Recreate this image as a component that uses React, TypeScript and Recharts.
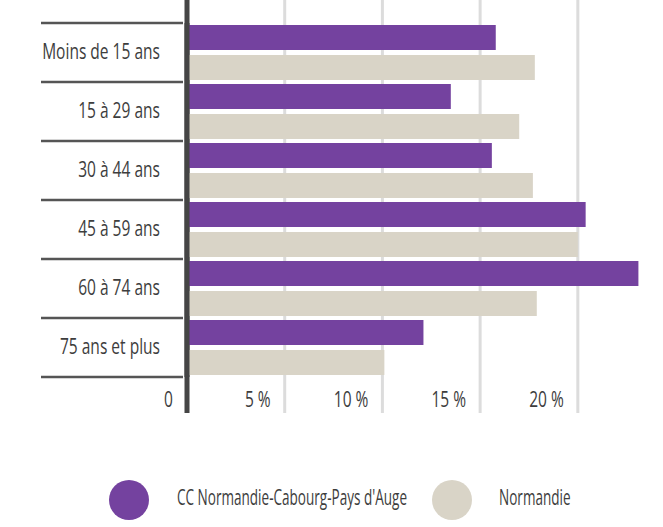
import React from "react";
import { BarChart, Bar, XAxis, YAxis, CartesianGrid, Legend } from "recharts";

const categories = ["Moins de 15 ans", "15 à 29 ans", "30 à 44 ans", "45 à 59 ans", "60 à 74 ans", "75 ans et plus"];
const ccValues = [15.8, 13.5, 15.6, 20.4, 23.1, 12.1];
const normandieValues = [17.8, 17.0, 17.7, 20.0, 17.9, 10.1];
const seriesNames = ["CC Normandie-Cabourg-Pays d'Auge", "Normandie"];
const xTicks = [0, 5, 10, 15, 20];
const xTickLabels = ["0", "5 %", "10 %", "15 %", "20 %"];

const PURPLE = "#74429f";
const BEIGE = "#d9d4c7";
const FONT = "'Open Sans', 'Noto Sans', sans-serif";
const FONT_SIZE = 21;
const SQUEEZE = 0.74;
const LEGEND_SQUEEZE = 0.645;
const TEXT = "#3d3d3d";
const SEP = "#555555";

const data = categories.map((c, i) => ({ name: c, cc: ccValues[i], norm: normandieValues[i] }));

const YTick = (props: any) => {
  const { x, y, payload, index, visibleTicksCount, height } = props;
  const count = visibleTicksCount || categories.length;
  const band = typeof height === "number" && height > 0 ? height / count : 59;
  const half = band / 2;
  const isLast = index === count - 1;
  return (
    <g>
      <line x1={x - 138} x2={x + 4} y1={y - half} y2={y - half} stroke={SEP} strokeWidth={2.5} />
      {isLast && <line x1={x - 138} x2={x + 4} y1={y + half} y2={y + half} stroke={SEP} strokeWidth={2.5} />}
      <g transform={`translate(${x - 19},${y})`}>
        <text transform={`scale(${SQUEEZE},1)`} textAnchor="end" dy={6.5} fill={TEXT} fontSize={FONT_SIZE} fontFamily={FONT}>
          {payload.value}
        </text>
      </g>
    </g>
  );
};

const XTick = (props: any) => {
  const { x, y, payload } = props;
  return (
    <g transform={`translate(${x - 14},${y})`}>
      <text transform={`scale(${SQUEEZE},1)`} textAnchor="end" dy={22} fill={TEXT} fontSize={FONT_SIZE} fontFamily={FONT}>
        {xTickLabels[xTicks.indexOf(payload.value)]}
      </text>
    </g>
  );
};

const LegendLabel = ({ text }: { text: string }) => (
  <span
    style={{
      display: "inline-block",
      transform: `scaleX(${LEGEND_SQUEEZE})`,
      transformOrigin: "left center",
      whiteSpace: "nowrap",
      position: "relative",
      top: -3,
    }}
  >
    {text}
  </span>
);

const LegendContent = () => (
  <div style={{ position: "relative", width: 663, height: 40, fontFamily: FONT, fontSize: FONT_SIZE, color: TEXT }}>
    <div style={{ position: "absolute", left: 109, top: 0, display: "flex", alignItems: "center", height: 40 }}>
      <div style={{ width: 40, height: 40, borderRadius: 20, background: PURPLE, flex: "none" }} />
      <div style={{ marginLeft: 28 }}><LegendLabel text={seriesNames[0]} /></div>
    </div>
    <div style={{ position: "absolute", left: 432, top: 0, display: "flex", alignItems: "center", height: 40 }}>
      <div style={{ width: 40, height: 40, borderRadius: 20, background: BEIGE, flex: "none" }} />
      <div style={{ marginLeft: 27 }}><LegendLabel text={seriesNames[1]} /></div>
    </div>
  </div>
);

export default function App() {
  return (
    <div style={{ position: "absolute", left: 0, top: 0, width: 663, height: 527, background: "#fff" }}>
      <BarChart
        width={663}
        height={527}
        data={data}
        layout="vertical"
        margin={{ top: 23, right: 7, bottom: 120, left: 0 }}
        barCategoryGap={2}
        barGap={5}
      >
        <CartesianGrid
          horizontal={false}
          vertical={true}
          stroke="#dcdcdc"
          strokeWidth={3}
          y={0}
          height={413}
          syncWithTicks
        />
        <CartesianGrid
          horizontal={false}
          vertical={true}
          verticalValues={[0]}
          stroke="#454545"
          strokeWidth={5}
          y={0}
          height={413}
          syncWithTicks
        />
        <XAxis
          type="number"
          domain={[0, 24]}
          ticks={xTicks}
          height={30}
          axisLine={false}
          tickLine={false}
          tick={<XTick />}
        />
        <Bar dataKey="cc" name={seriesNames[0]} fill={PURPLE} isAnimationActive={false} />
        <Bar dataKey="norm" name={seriesNames[1]} fill={BEIGE} isAnimationActive={false} />
        <YAxis
          type="category"
          dataKey="name"
          width={187}
          axisLine={{ stroke: "#454545", strokeWidth: 5 }}
          tickLine={false}
          tick={<YTick />}
        />
        <Legend
          layout="vertical"
          align="center"
          verticalAlign="middle"
          wrapperStyle={{ left: 0, top: 480, width: 663, height: 40 }}
          content={<LegendContent />}
        />
      </BarChart>
    </div>
  );
}
